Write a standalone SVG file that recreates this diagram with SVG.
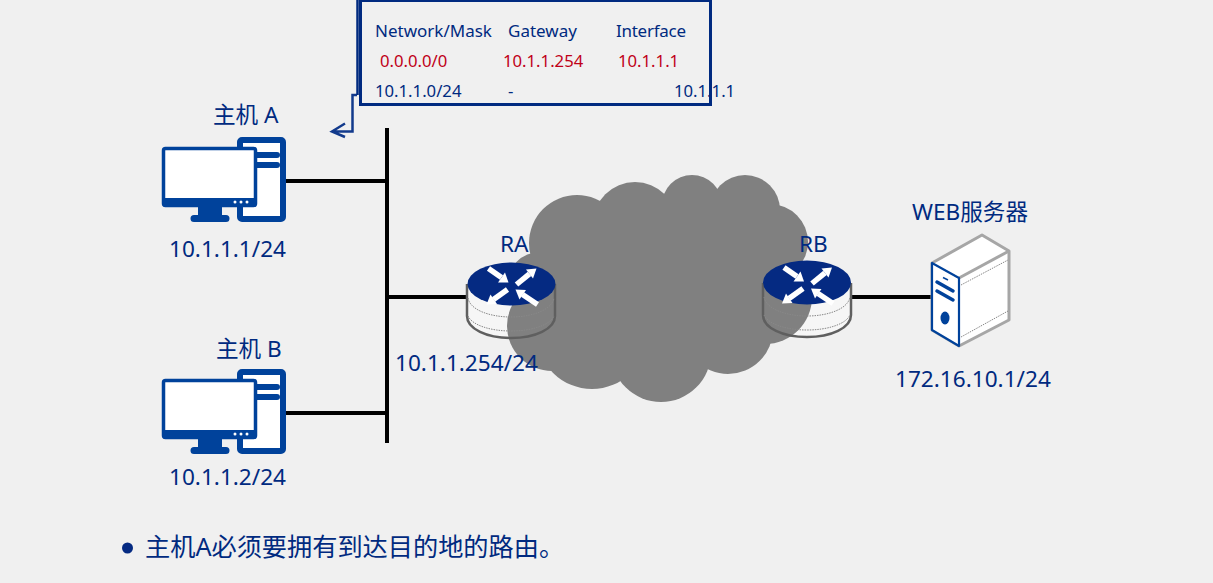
<svg xmlns="http://www.w3.org/2000/svg" xmlns:xlink="http://www.w3.org/1999/xlink" width="1213" height="583" viewBox="0 0 1213 583">
<style>
text{font-family:"Noto Sans","Noto Sans CJK SC",sans-serif;fill:#002a80}
.h{font-size:17px}
.t{font-size:16.700px}
.l{font-size:22.600px}
.r{fill:#c00018}
.w{stroke:#000;stroke-width:4;fill:none}
.b{fill:#00429b}
.dot{fill:none;stroke:#888;stroke-width:1;stroke-dasharray:1.500 1}
.side{fill:none;stroke:#5f5f5f;stroke-width:2.500}
</style>
<defs>
<g id="pc">
<rect x="240" y="140" width="43" height="79" rx="2" fill="#fff" stroke="#00429b" stroke-width="6"/>
<path class="b" d="M255 152h22a3 3 0 0 1 0 6h-22zM255 162h22a3 3 0 0 1 0 6h-22z"/>
<rect x="163.500" y="148.500" width="92" height="57" rx="2" fill="#fff" stroke="#00429b" stroke-width="3.500"/>
<path class="b" d="M163 198H256V205a2 2 0 0 1-2 2H165a2 2 0 0 1-2-2zM198 207h24v8h4a3.500 3.500 0 0 1 0 7H194a3.500 3.500 0 0 1 0-7h4z"/>
<circle cx="235" cy="202" r="1.500" fill="#fff"/><circle cx="241" cy="202" r="1.500" fill="#fff"/><circle cx="247" cy="202" r="1.500" fill="#fff"/>
</g>
<g id="arrows" fill="#fff" stroke="none">
<path d="M-23-15-10-6" stroke="#fff" stroke-width="5.500"/><path d="M-3-1-6.500-11-13.500-1Z"/>
<path d="M5 1 18-9.700" stroke="#fff" stroke-width="5.500"/><path d="M25-15 21.500-5 14.500-14Z"/>
<path d="M-4 6-18 16" stroke="#fff" stroke-width="5.500"/><path d="M-25 21-14.500 20.500-21 11Z"/>
<path d="M26 21 11 11" stroke="#fff" stroke-width="5.500"/><path d="M4 6 14.500 6.500 8 16Z"/>
</g>
</defs>
<rect width="1213" height="583" fill="#f0f0f0"/>
<g id="router-bodies">
<path d="M467 284V316C467 329 487 338 511 338S555 329 555 316V284Z" fill="#f6f6f6"/>
<path d="M763 283V315C763 328 783 337 807 337S851 328 851 315V283Z" fill="#f6f6f6"/>
</g>
<g id="cloud" fill="#808080">
<circle cx="577" cy="243" r="48"/><circle cx="635" cy="224" r="42"/><circle cx="692" cy="205" r="30"/><circle cx="745" cy="210" r="35"/><circle cx="770" cy="242" r="38"/><circle cx="765" cy="297" r="47"/><circle cx="728" cy="329" r="45"/><circle cx="661" cy="352" r="50"/><circle cx="592" cy="334" r="55"/><circle cx="552" cy="326" r="45"/><circle cx="540" cy="285" r="33"/><rect x="570" y="220" width="190" height="120"/>
</g>
<g id="connectors">
<path class="w" d="M387 128V443M286 181H387M286 413H387M387 297H468M851 297H932"/>
<path d="M357 95H352.500V131.500H332M345 123.500 332 131.500 345 137" fill="none" stroke="#123a8c" stroke-width="2.500"/>
</g>
<g id="routing-table">
<path d="M357.500 0V95" stroke="#002a80" stroke-width="2.500" fill="none"/>
<rect x="360.500" y="0.500" width="350" height="104" fill="none" stroke="#002a80" stroke-width="3"/>
<text class="h" x="375" y="37">Network/Mask</text><text class="h" x="508" y="37">Gateway</text><text class="h" x="616" y="37" textLength="70">Interface</text>
<text class="t r" x="380" y="67">0.0.0.0/0</text><text class="t r" x="503" y="67">10.1.1.254</text><text class="t r" x="618" y="67">10.1.1.1</text>
<text class="t" x="375" y="97">10.1.1.0/24</text><text class="t" x="508" y="97">-</text><text class="t" x="674" y="97">10.1.1.1</text>
</g>
<g id="host-a"><use href="#pc"/><text class="l" x="213" y="123">主机 A</text><text class="l" x="169" y="257">10.1.1.1/24</text></g>
<g id="host-b"><use href="#pc" y="232"/><text class="l" x="216" y="357">主机 B</text><text class="l" x="169" y="485">10.1.1.2/24</text></g>
<g id="router-a">
<path class="side" d="M467 284V316C467 329 487 338 511 338S555 329 555 316V284"/>
<path class="dot" d="M468 298C470 310 490 317 511 317S552 310 554 298M468 316C472 325 490 331 511 331S550 325 554 316"/>
<ellipse cx="511.500" cy="284" rx="44" ry="21.500" fill="#052a82"/>
<use href="#arrows" x="511.500" y="283.500"/>
<text class="l" x="500" y="252">RA</text><text class="l" x="395" y="371">10.1.1.254/24</text>
</g>
<g id="router-b">
<path class="side" d="M763 283V315C763 328 783 337 807 337S851 328 851 315V283"/>
<path class="dot" d="M764 297C766 309 786 316 807 316S848 309 850 297M764 315C768 324 786 330 807 330S846 324 850 315"/>
<ellipse cx="807" cy="282.500" rx="44" ry="22" fill="#052a82"/>
<use href="#arrows" x="807" y="282.500"/>
<text class="l" x="799" y="252">RB</text>
</g>
<g id="web-server">
<path d="M932 263 982 235 1009 251V320L959 346 932 330Z" fill="#fff" stroke="#a6a6a6" stroke-width="3" stroke-linejoin="round"/>
<path d="M959 278 1009 251" stroke="#a6a6a6" stroke-width="3" fill="none"/>
<path class="dot" d="M961 285 1008 260M961 337 1008 311"/>
<path d="M932 263 959 278V346L932 330Z" fill="#fff" stroke="#00429b" stroke-width="2.200" stroke-linejoin="round"/>
<path d="M937 282 953 291M937 291 953 300" stroke="#00429b" stroke-width="3.500" fill="none" stroke-linecap="round"/>
<path d="M943 277.500 948 280" stroke="#00429b" stroke-width="1.500" fill="none"/>
<ellipse cx="945" cy="318" rx="4.500" ry="6.500" fill="#00429b"/>
<text class="l" x="912" y="220">WEB服务器</text><text class="l" x="895" y="387">172.16.10.1/24</text>
</g>
<g id="note">
<circle cx="127.500" cy="548" r="5.500" fill="#052a82"/>
<text x="145" y="556" font-size="25.200">主机A必须要拥有到达目的地的路由。</text>
</g>
</svg>
